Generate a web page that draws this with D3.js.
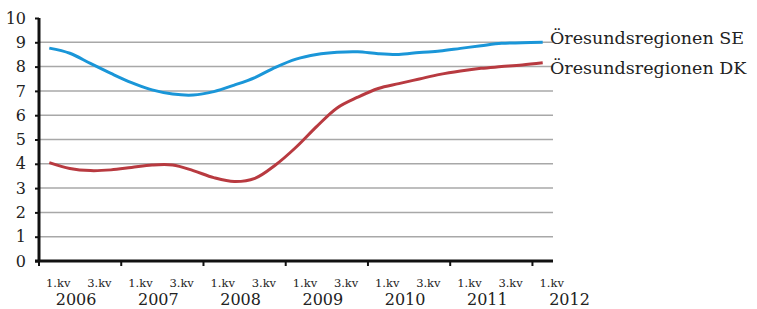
<!DOCTYPE html>
<html>
<head>
<meta charset="utf-8">
<script src="https://cdn.jsdelivr.net/npm/d3@7"></script>
<style>
  body { margin: 0; background: #fff; }
  text { font-family: "DejaVu Serif", serif; fill: #222; }
</style>
</head>
<body>
<div id="chart"></div>
<script>
// quarters 2006 Q1 .. 2012 Q1
let quarters = [];
let years = [2006, 2007, 2008, 2009, 2010, 2011, 2012];
years.forEach(function(y) {
  [1, 2, 3, 4].forEach(function(q) {
    if (y < 2012 || q === 1) quarters.push(y + "Q" + q);
  });
});

let seValues = [8.76, 8.55, 8.13, 7.72, 7.34, 7.04, 6.87, 6.83, 6.97, 7.24, 7.55, 7.97, 8.31,
                8.5, 8.59, 8.61, 8.53, 8.5, 8.58, 8.64, 8.75, 8.86, 8.96, 8.98, 9.0];
let dkValues = [4.05, 3.81, 3.72, 3.75, 3.85, 3.95, 3.95, 3.72, 3.43, 3.27, 3.4, 3.95, 4.68,
                5.53, 6.3, 6.74, 7.1, 7.3, 7.49, 7.68, 7.82, 7.93, 8.0, 8.07, 8.16];

let seriesNames = ["Öresundsregionen SE", "Öresundsregionen DK"];
let seriesColors = ["#1a96d8", "#b83a40"];
let yTicks = [0, 1, 2, 3, 4, 5, 6, 7, 8, 9, 10];

let W = 757, H = 309;
let margin = {top: 18, right: 204, bottom: 48, left: 39};
let w = W - margin.left - margin.right;
let h = H - margin.top - margin.bottom;

let svg = d3.select("#chart").append("svg")
  .attr("width", W)
  .attr("height", H);

let g = svg.append("g")
  .attr("transform", "translate(" + margin.left + "," + margin.top + ")");

let x = d3.scaleBand()
  .domain(quarters)
  .range([0, w])
  .padding(0);

let y = d3.scaleLinear()
  .domain([0, 10])
  .range([h, 0]);

// gridlines
g.selectAll("line.grid")
  .data(yTicks.filter(function(d) { return d > 0 && d < 10; }))
  .enter().append("line")
  .attr("x1", 0)
  .attr("x2", w)
  .attr("y1", function(d) { return y(d); })
  .attr("y2", function(d) { return y(d); })
  .attr("stroke", "#a8a8a8")
  .attr("stroke-width", 1.5);

// y axis
let yAxis = g.append("g")
  .call(d3.axisLeft(y).tickValues(yTicks).tickSize(4).tickPadding(9).tickFormat(d3.format("d")));
yAxis.select(".domain").attr("stroke", "#111").attr("stroke-width", 3).attr("d", "M0," + h + "V0");
yAxis.selectAll(".tick line").attr("stroke", "#111").attr("stroke-width", 2);
yAxis.selectAll("text").style("font-size", "16px").attr("fill", "#222");

// x axis: ticks every 4 quarters at band edges
let edgeTicks = quarters.filter(function(d, i) { return i % 4 === 0; });
let xAxis = g.append("g")
  .attr("transform", "translate(0," + h + ")");
xAxis.append("line")
  .attr("x1", -4).attr("x2", w)
  .attr("y1", 0).attr("y2", 0)
  .attr("stroke", "#111").attr("stroke-width", 3);
xAxis.selectAll("line.tick")
  .data(edgeTicks)
  .enter().append("line")
  .attr("x1", function(d) { return x(d); })
  .attr("x2", function(d) { return x(d); })
  .attr("y1", 0).attr("y2", 5)
  .attr("stroke", "#111").attr("stroke-width", 2);

// quarter labels (1.kv / 3.kv)
let qLabels = quarters.filter(function(d) { return /Q[13]$/.test(d); });
xAxis.selectAll("text.q")
  .data(qLabels)
  .enter().append("text")
  .attr("x", function(d) { return x(d) + x.bandwidth() / 2 + 9; })
  .attr("y", 26)
  .attr("text-anchor", "middle")
  .style("font-size", "11.5px")
  .text(function(d) { return d.slice(-1) + ".kv"; });

// year labels
xAxis.selectAll("text.year")
  .data(years)
  .enter().append("text")
  .attr("x", function(d) { return x(d + "Q1") + x.step() * 2 - 4; })
  .attr("y", 44)
  .attr("text-anchor", "middle")
  .style("font-size", "16px")
  .text(function(d) { return d; });

// lines
let line = d3.line()
  .x(function(d, i) { return x(quarters[i]) + x.bandwidth() / 2; })
  .y(function(d) { return y(d); })
  .curve(d3.curveCatmullRom.alpha(0.5));

[seValues, dkValues].forEach(function(vals, k) {
  g.append("path")
    .datum(vals)
    .attr("fill", "none")
    .attr("stroke", seriesColors[k])
    .attr("stroke-width", 3)
    .attr("d", line);
});

// series labels at the right
let labelY = [43.5, 74];
seriesNames.forEach(function(name, k) {
  svg.append("text")
    .attr("x", 550)
    .attr("y", labelY[k])
    .style("font-size", "17.5px")
    .text(name);
});
</script>
</body>
</html>
